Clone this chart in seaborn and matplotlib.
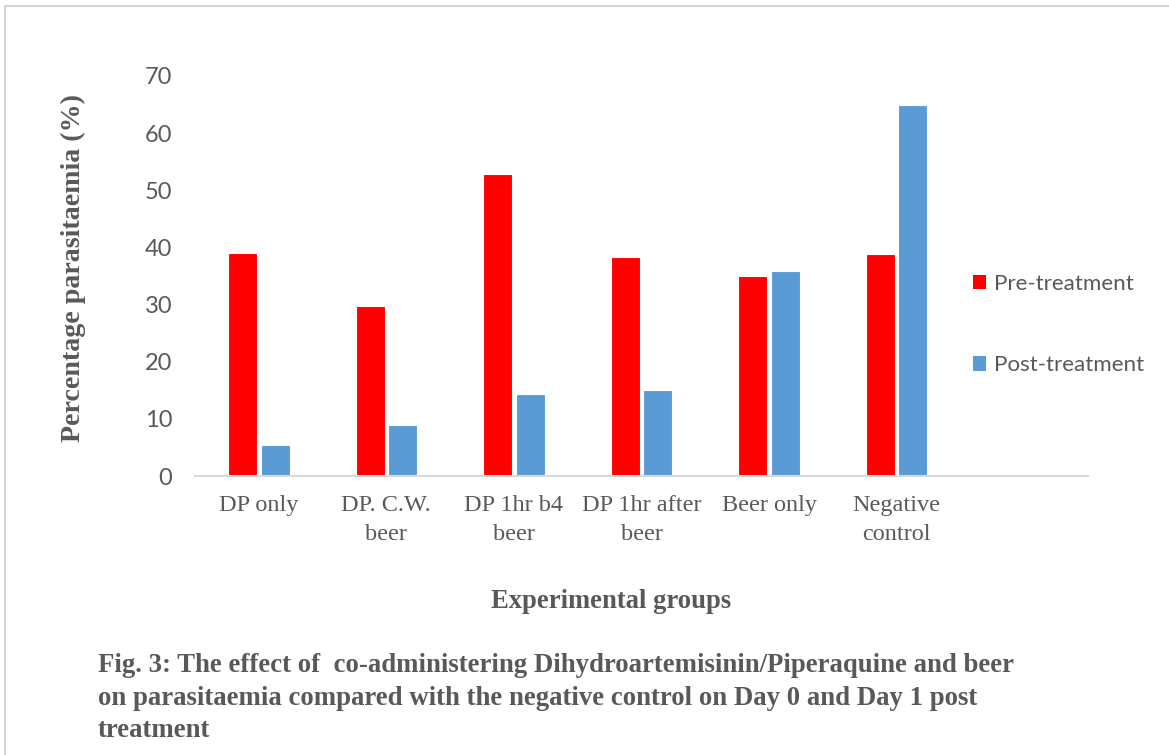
import matplotlib
matplotlib.use("Agg")
import matplotlib.pyplot as plt
import pandas as pd
import seaborn as sns
from matplotlib.lines import Line2D
from matplotlib.patches import Patch

# Parasitaemia (%) per experimental group
groups = ["DP only", "DP. C.W.\nbeer", "DP 1hr b4\nbeer", "DP 1hr after\nbeer",
          "Beer only", "Negative\ncontrol"]
pre_treatment = [39.1, 29.8, 52.8, 38.3, 35.0, 38.9]
post_treatment = [5.5, 8.9, 14.4, 15.0, 35.8, 64.9]
series_names = ["Pre-treatment", "Post-treatment"]
y_ticks = [0, 10, 20, 30, 40, 50, 60, 70]

caption = ("Fig. 3: The effect of  co-administering Dihydroartemisinin/Piperaquine and beer\n"
           "on parasitaemia compared with the negative control on Day 0 and Day 1 post\n"
           "treatment")

df = pd.DataFrame({
    "group": groups * 2,
    "value": pre_treatment + post_treatment,
    "series": [series_names[0]] * len(groups) + [series_names[1]] * len(groups),
})

sns.set_theme(style="white")
plt.rcParams["font.family"] = ["Lato", "DejaVu Sans"]

RED = "#FF0000"
BLUE = "#5B9BD5"
GREY_TXT = "#595959"

fig = plt.figure(figsize=(11.69, 7.55), dpi=100)
ax = fig.add_axes([195 / 1169, 1 - 476 / 755, (1088 - 195) / 1169, (476 - 76) / 755])

sns.barplot(data=df, x="group", y="value", hue="series", order=groups,
            hue_order=series_names, palette=[RED, BLUE], width=0.51, gap=0.11,
            linewidth=0.8, edgecolor="white", saturation=1, ax=ax, legend=False)

# Room for a seventh (empty) category slot on the right
ax.set_xlim(-0.5, 6.5)
ax.set_ylim(0, 70)
ax.set_yticks(y_ticks)
ax.set_yticklabels([str(t) for t in y_ticks], color=GREY_TXT, fontsize=17)
ax.tick_params(axis="y", length=0, pad=16.5)
ax.tick_params(axis="x", length=0, pad=13.5)
for lab in ax.get_xticklabels():
    lab.set_fontfamily("Liberation Serif")
    lab.set_fontsize(17.5)
    lab.set_color(GREY_TXT)
    lab.set_linespacing(1.5)

for side in ["left", "right", "top"]:
    ax.spines[side].set_visible(False)
ax.spines["bottom"].set_color("#D9D9D9")
ax.spines["bottom"].set_linewidth(1.5)

ax.set_xlabel("")
ax.set_ylabel("")

fig.text(73 / 1169, 1 - 268 / 755, "Percentage parasitaemia (%)", rotation=90,
         ha="center", va="center", family="Liberation Serif", fontweight="bold",
         fontsize=20.2, color=GREY_TXT)
fig.text(611 / 1169, 1 - 601 / 755, "Experimental groups", ha="center", va="center",
         family="Liberation Serif", fontweight="bold", fontsize=19.2, color=GREY_TXT)

# Legend placed to the right of the bars
handles = [Patch(facecolor=RED, edgecolor="none"), Patch(facecolor=BLUE, edgecolor="none")]
leg = fig.legend(handles, series_names, loc="upper left",
                 bbox_to_anchor=(964 / 1169, 1 - 265 / 755), frameon=False,
                 fontsize=16.1, handlelength=0.6, handleheight=0.6, handletextpad=0.35,
                 labelspacing=2.75, borderaxespad=0)
for t in leg.get_texts():
    t.set_color(GREY_TXT)

fig.text(98 / 1169, 1 - 653 / 755, caption, ha="left", va="top",
         family="Liberation Serif", fontweight="bold", fontsize=19.3,
         color=GREY_TXT, linespacing=1.4)

# Chart-area frame along the top and left edges
frame = "#D4D4D4"
fig.add_artist(Line2D([5 / 1169, 1.0], [1 - 6 / 755, 1 - 6 / 755], color=frame,
                      linewidth=1.5, transform=fig.transFigure))
fig.add_artist(Line2D([5 / 1169, 5 / 1169], [0.0, 1 - 6 / 755], color=frame,
                      linewidth=1.5, transform=fig.transFigure))

fig.savefig("out.png", dpi=100, facecolor="white")
